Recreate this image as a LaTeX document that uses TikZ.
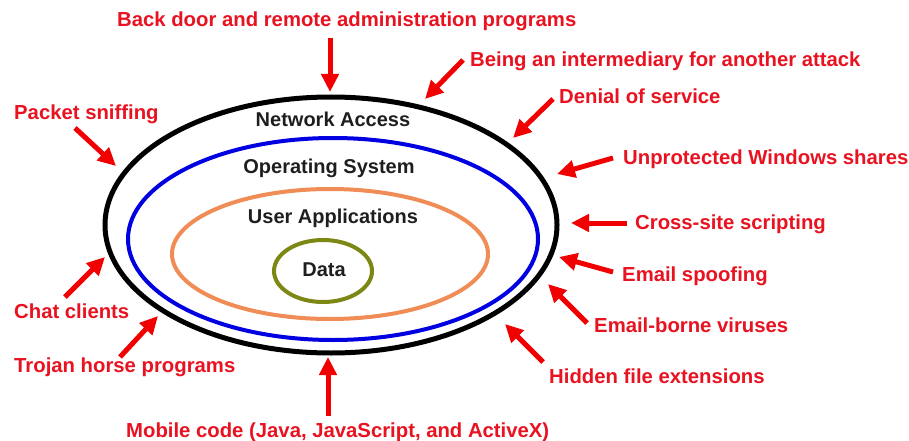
\documentclass[tikz,border=0pt]{standalone}
\usepackage{fontspec}
\setmainfont{Liberation Sans}
\usetikzlibrary{arrows.meta}
\definecolor{lblred}{RGB}{232,18,32}
\definecolor{arrred}{RGB}{240,0,0}
\definecolor{txtdark}{RGB}{30,30,30}
\definecolor{ringblue}{RGB}{0,0,225}
\definecolor{ringorange}{RGB}{240,140,85}
\definecolor{ringolive}{RGB}{125,135,20}
\tikzset{
  lbl/.style={anchor=base west, inner sep=0pt, text=lblred, font=\fontsize{20.3}{23}\selectfont\bfseries},
  ringlbl/.style={inner sep=0pt, text=txtdark, font=\fontsize{20}{23}\selectfont\bfseries},
  atk/.style={draw=arrred, line width=5pt, -{Triangle[length=18pt, width=17pt]}},
}
\begin{document}
\begin{tikzpicture}[x=1pt,y=-1pt]
\useasboundingbox (0,0) rectangle (909,441);
% rings
\draw[line width=5pt, black] (331,225) ellipse [x radius=226, y radius=128];
\draw[line width=4pt, ringblue] (333,239) ellipse [x radius=205, y radius=101];
\draw[line width=4pt, ringorange] (330,254) ellipse [x radius=158, y radius=65];
\draw[line width=4pt, ringolive] (323,271) ellipse [x radius=49, y radius=31];
% ring labels
\node[ringlbl] (na) at (333,119) {Network Access};
\node[ringlbl] (os) at (329,168) {Operating System};
\node[ringlbl] (ua) at (333,218) {User Applications};
\node[ringlbl] (dt) at (324,270) {Data};
% threat labels
\node[lbl] (l1) at (117,27) {Back door and remote administration programs};
\node[lbl] (l2) at (470,67) {Being an intermediary for another attack};
\node[lbl] (l3) at (559,104) {Denial of service};
\node[lbl] (l4) at (14,119) {Packet sniffing};
\node[lbl] (l5) at (623,164) {Unprotected Windows shares};
\node[lbl] (l6) at (635,229) {Cross-site scripting};
\node[lbl] (l7) at (622,281) {Email spoofing};
\node[lbl] (l8) at (594,332) {Email-borne viruses};
\node[lbl] (l9) at (549,383) {Hidden file extensions};
\node[lbl] (l10) at (14,318) {Chat clients};
\node[lbl] (l11) at (14,372) {Trojan horse programs};
\node[lbl] (l12) at (126,437) {Mobile code (Java, JavaScript, and ActiveX)};
% arrow ends
\coordinate (t1) at (330,38);  \coordinate (h1) at (330,92);
\coordinate (t2) at (463,60);  \coordinate (h2) at (425,99);
\coordinate (t3) at (553,99);  \coordinate (h3) at (513,138);
\coordinate (t4) at (75,128);  \coordinate (h4) at (116,166);
\coordinate (t5) at (613,158); \coordinate (h5) at (557,174);
\coordinate (t6) at (627,223); \coordinate (h6) at (571,223);
\coordinate (t7) at (613,272); \coordinate (h7) at (559,257);
\coordinate (t8) at (587,323); \coordinate (h8) at (548,284);
\coordinate (t9) at (543,362); \coordinate (h9) at (505,324);
\coordinate (t10) at (65,297); \coordinate (h10) at (105,257);
\coordinate (t11) at (120,357); \coordinate (h11) at (158,316);
\coordinate (t12) at (328,416); \coordinate (h12) at (328,357);
\foreach \i in {1,...,12} {\draw[atk] (t\i) -- (h\i);}
\end{tikzpicture}
\end{document}
